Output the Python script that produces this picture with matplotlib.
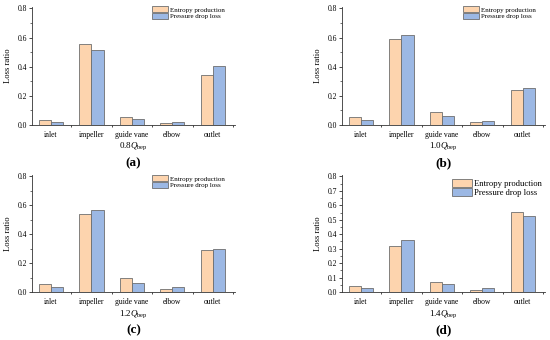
import numpy as np
import matplotlib
matplotlib.use("Agg")
import matplotlib.pyplot as plt
from matplotlib.ticker import FixedLocator, MultipleLocator

plt.rcParams['font.family'] = ['Liberation Serif', 'DejaVu Serif']
plt.rcParams['mathtext.fontset'] = 'custom'
plt.rcParams['mathtext.rm'] = 'Liberation Serif'
plt.rcParams['mathtext.it'] = 'Liberation Serif:italic'

# data
parts = ['inlet', 'impeller', 'guide vane', 'elbow', 'outlet']
flow_rates = ['0.8', '1.0', '1.2', '1.4']
panel_tags = ['(a)', '(b)', '(c)', '(d)']

entropy_08 = [0.036, 0.557, 0.057, 0.014, 0.341]
pressure_08 = [0.023, 0.518, 0.039, 0.018, 0.405]
entropy_10 = [0.055, 0.593, 0.089, 0.018, 0.241]
pressure_10 = [0.034, 0.616, 0.061, 0.030, 0.255]
entropy_12 = [0.057, 0.537, 0.095, 0.020, 0.292]
pressure_12 = [0.036, 0.567, 0.063, 0.034, 0.299]
entropy_14 = [0.041, 0.317, 0.071, 0.016, 0.553]
pressure_14 = [0.027, 0.362, 0.055, 0.025, 0.524]

entropy_all = [entropy_08, entropy_10, entropy_12, entropy_14]
pressure_all = [pressure_08, pressure_10, pressure_12, pressure_14]

c_ent = '#FDD4AE'
c_pre = '#9CB8E4'
edge = '#6E6E6E'

W, H = 550, 340
fig = plt.figure(figsize=(5.5, 3.4), dpi=100)

# axes boxes in pixels: left, right, top, bottom
boxes = [(32, 235, 7, 125), (342, 545, 7, 125),
         (32, 235, 175, 292), (342, 545, 175, 292)]
leg_pos = [(152, 6), (463, 6), (152, 175), (452, 179)]
leg_fs = [5.0, 5.0, 5.0, 6.2]

x = np.arange(len(parts))
bw = 0.3

for i in range(4):
    l, r, t, b = boxes[i]
    ax = fig.add_axes([l / W, 1 - b / H, (r - l) / W, (b - t) / H])
    ax.bar(x - bw / 2, entropy_all[i], bw, color=c_ent, edgecolor=edge,
           linewidth=0.6, label='Entropy production')
    ax.bar(x + bw / 2, pressure_all[i], bw, color=c_pre, edgecolor=edge,
           linewidth=0.6, label='Pressure drop loss')
    ax.set_xlim(-0.47, 4.55)
    ax.set_ylim(0, 0.81)
    ax.spines['top'].set_visible(False)
    ax.spines['right'].set_visible(False)
    for s in ['left', 'bottom']:
        ax.spines[s].set_linewidth(0.6)
        ax.spines[s].set_color('#333333')
    ax.set_xticks(x)
    ax.set_xticklabels(parts, fontsize=5.5)
    ax.xaxis.set_minor_locator(FixedLocator(np.arange(-0.5, 5, 1.0)))
    ax.tick_params(axis='x', which='major', length=0, pad=4)
    ax.tick_params(axis='x', which='minor', direction='out', length=1.5, width=0.5)
    if i == 3:
        ax.yaxis.set_major_locator(MultipleLocator(0.1))
        ax.yaxis.set_minor_locator(MultipleLocator(0.05))
        ax.yaxis.set_major_formatter(matplotlib.ticker.FormatStrFormatter('%.1f'))
    else:
        ax.set_yticks([0.0, 0.2, 0.4, 0.6, 0.8])
        ax.set_yticklabels(['0.0', '0.2', '0.4', '0.6', '0.8'])
        ax.yaxis.set_minor_locator(MultipleLocator(0.1))
    ax.tick_params(axis='y', which='major', direction='out', length=2.2,
                   width=0.5, labelsize=5.5, pad=1.5)
    ax.tick_params(axis='y', which='minor', direction='out', length=1.2, width=0.4)
    ax.set_ylabel('Loss ratio', fontsize=6.2, labelpad=4)

    lx, ly = leg_pos[i]
    ax.legend(loc='upper left', bbox_to_anchor=(lx / W, 1 - ly / H),
              bbox_transform=fig.transFigure, frameon=False,
              fontsize=leg_fs[i], handlelength=2.3, handleheight=1.05,
              labelspacing=0.0, handletextpad=0.3, borderpad=0,
              borderaxespad=0)

    cx = (l + r) / 2 / W
    ylab = 146 if i < 2 else 314
    ytag = 163 if i < 2 else 330
    fig.text(cx, 1 - ylab / H, flow_rates[i] + r'$\mathit{Q}_{\rm bep}$',
             ha='center', va='center', fontsize=6.5)
    fig.text(cx, 1 - ytag / H, panel_tags[i], ha='center', va='center',
             fontsize=9.5, fontweight='bold')

fig.savefig('out.png', dpi=100)
